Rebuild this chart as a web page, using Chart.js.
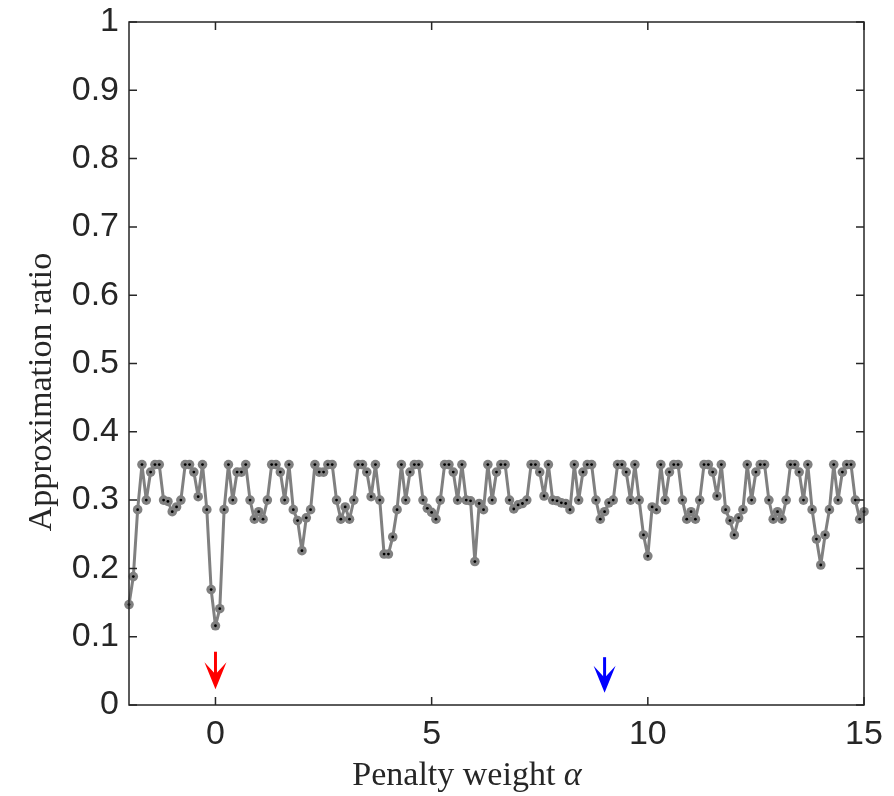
<!DOCTYPE html>
<html><head><meta charset="utf-8">
<script src="https://cdn.jsdelivr.net/npm/chart.js@4.4.1/dist/chart.umd.min.js"></script>
<style>html,body{margin:0;padding:0;background:#fff;}canvas{display:block;}</style>
</head><body>
<canvas id="c" width="894" height="796"></canvas>
<script>
// Penalty weight alpha (x categories)
const alpha = [
-2,-1.9,-1.8,-1.7,-1.6,-1.5,-1.4,-1.3,-1.2,-1.1,
-1,-0.9,-0.8,-0.7,-0.6,-0.5,-0.4,-0.3,-0.2,-0.1,
0,0.1,0.2,0.3,0.4,0.5,0.6,0.7,0.8,0.9,
1,1.1,1.2,1.3,1.4,1.5,1.6,1.7,1.8,1.9,
2,2.1,2.2,2.3,2.4,2.5,2.6,2.7,2.8,2.9,
3,3.1,3.2,3.3,3.4,3.5,3.6,3.7,3.8,3.9,
4,4.1,4.2,4.3,4.4,4.5,4.6,4.7,4.8,4.9,
5,5.1,5.2,5.3,5.4,5.5,5.6,5.7,5.8,5.9,
6,6.1,6.2,6.3,6.4,6.5,6.6,6.7,6.8,6.9,
7,7.1,7.2,7.3,7.4,7.5,7.6,7.7,7.8,7.9,
8,8.1,8.2,8.3,8.4,8.5,8.6,8.7,8.8,8.9,
9,9.1,9.2,9.3,9.4,9.5,9.6,9.7,9.8,9.9,
10,10.1,10.2,10.3,10.4,10.5,10.6,10.7,10.8,10.9,
11,11.1,11.2,11.3,11.4,11.5,11.6,11.7,11.8,11.9,
12,12.1,12.2,12.3,12.4,12.5,12.6,12.7,12.8,12.9,
13,13.1,13.2,13.3,13.4,13.5,13.6,13.7,13.8,13.9,
14,14.1,14.2,14.3,14.4,14.5,14.6,14.7,14.8,14.9,
15];
// Approximation ratio (series values)
const ratio = [
0.147,0.188,0.286,0.352,0.300,0.341,0.352,0.352,0.300,0.298,
0.283,0.290,0.300,0.352,0.352,0.341,0.305,0.352,0.286,0.169,
0.116,0.141,0.286,0.352,0.300,0.341,0.341,0.352,0.300,0.272,
0.283,0.272,0.300,0.352,0.352,0.341,0.300,0.352,0.286,0.270,
0.226,0.274,0.286,0.352,0.341,0.341,0.352,0.352,0.300,0.272,
0.290,0.272,0.300,0.352,0.352,0.341,0.305,0.352,0.300,0.221,
0.221,0.246,0.286,0.352,0.300,0.341,0.352,0.352,0.300,0.288,
0.282,0.272,0.300,0.352,0.352,0.341,0.300,0.352,0.300,0.299,
0.210,0.295,0.286,0.352,0.300,0.341,0.352,0.352,0.300,0.287,
0.293,0.295,0.300,0.352,0.352,0.341,0.306,0.352,0.300,0.299,
0.296,0.295,0.286,0.352,0.300,0.341,0.352,0.352,0.300,0.272,
0.283,0.296,0.300,0.352,0.352,0.341,0.300,0.352,0.300,0.249,
0.218,0.290,0.286,0.352,0.300,0.341,0.352,0.352,0.300,0.272,
0.283,0.272,0.300,0.352,0.352,0.341,0.306,0.352,0.286,0.270,
0.249,0.274,0.286,0.352,0.300,0.341,0.352,0.352,0.300,0.272,
0.283,0.272,0.300,0.352,0.352,0.341,0.300,0.352,0.286,0.243,
0.205,0.249,0.286,0.352,0.300,0.341,0.352,0.352,0.300,0.272,
0.283];
// Tick values and labels
const xTicks = [0, 5, 10, 15];
const xTickLabels = ['0', '5', '10', '15'];
const yTicks = [0, 0.1, 0.2, 0.3, 0.4, 0.5, 0.6, 0.7, 0.8, 0.9, 1];
const yTickLabels = ['0', '0.1', '0.2', '0.3', '0.4', '0.5', '0.6', '0.7', '0.8', '0.9', '1'];
// Arrow markers (alpha position, start and tip in ratio units)
const arrowAlpha = [0, 9];
const arrowTop = [0.078, 0.070];
const arrowTip = [0.023, 0.018];
const arrowColor = ['#ff0000', '#0000ff'];
const xTitle = 'Penalty weight ';
const xTitleSym = 'α';
const yTitle = 'Approximation ratio';

const points = alpha.map((a, i) => ({x: a, y: ratio[i]}));
const AX = '#262626';

const decor = {
  id: 'decor',
  afterDraw(chart) {
    const {ctx, chartArea: a, scales: {x, y}} = chart;
    ctx.save();
    ctx.strokeStyle = AX; ctx.lineWidth = 1.5;
    ctx.strokeRect(a.left, a.top, a.right - a.left, a.bottom - a.top);
    const tl = 8;
    ctx.beginPath();
    yTicks.forEach(v => {
      const py = y.getPixelForValue(v);
      ctx.moveTo(a.left, py); ctx.lineTo(a.left + tl, py);
      ctx.moveTo(a.right, py); ctx.lineTo(a.right - tl, py);
    });
    xTicks.forEach(v => {
      const px = x.getPixelForValue(v);
      ctx.moveTo(px, a.bottom); ctx.lineTo(px, a.bottom - tl);
      ctx.moveTo(px, a.top); ctx.lineTo(px, a.top + tl);
    });
    ctx.stroke();
    arrowAlpha.forEach((v, i) => {
      const px = x.getPixelForValue(v);
      const y0 = y.getPixelForValue(arrowTop[i]);
      const y1 = y.getPixelForValue(arrowTip[i]);
      ctx.strokeStyle = arrowColor[i]; ctx.fillStyle = arrowColor[i];
      ctx.lineWidth = 3;
      ctx.beginPath(); ctx.moveTo(px, y0); ctx.lineTo(px, y1 - 12); ctx.stroke();
      ctx.beginPath();
      ctx.moveTo(px, y1);
      ctx.lineTo(px - 11, y1 - 27);
      ctx.lineTo(px, y1 - 15);
      ctx.lineTo(px + 11, y1 - 27);
      ctx.closePath(); ctx.fill();
    });
    ctx.fillStyle = AX;
    ctx.font = '34px "Liberation Serif"';
    ctx.textBaseline = 'alphabetic';
    ctx.save();
    ctx.translate(51, 392);
    ctx.rotate(-Math.PI / 2);
    ctx.textAlign = 'center';
    ctx.fillText(yTitle, 0, 0);
    ctx.restore();
    ctx.textAlign = 'left';
    const w = ctx.measureText(xTitle).width;
    ctx.font = 'italic 34px "Liberation Serif"';
    const w2 = ctx.measureText(xTitleSym).width;
    const sx = 467 - (w + w2) / 2;
    ctx.font = '34px "Liberation Serif"';
    ctx.fillText(xTitle, sx, 785);
    ctx.font = 'italic 34px "Liberation Serif"';
    ctx.fillText(xTitleSym, sx + w, 785);
    ctx.restore();
  }
};

new Chart(document.getElementById('c'), {
  type: 'line',
  data: {
    datasets: [
      {data: points, order: 1, borderColor: '#808080', borderWidth: 3, borderJoinStyle: 'round',
       pointRadius: 4.8, pointBackgroundColor: '#808080', pointBorderColor: '#808080', pointBorderWidth: 0,
       tension: 0, clip: false},
      {data: points, order: 0, showLine: false, pointRadius: 1.4, pointBackgroundColor: '#000',
       pointBorderWidth: 0, clip: false}
    ]
  },
  options: {
    responsive: false, animation: false, events: [],
    plugins: {legend: {display: false}, tooltip: {enabled: false}},
    layout: {padding: {top: 22, right: 30, left: 0, bottom: 0}},
    scales: {
      x: {
        type: 'linear', min: -2, max: 15,
        afterBuildTicks: s => { s.ticks = xTicks.map(v => ({value: v})); },
        afterFit: s => { s.height = 91; s.paddingLeft = 0; s.paddingRight = 0; },
        ticks: {autoSkip: false, maxRotation: 0, padding: 9, color: AX,
                font: {family: 'Liberation Sans', size: 34},
                callback: (v, i) => xTickLabels[i]},
        grid: {display: false, drawTicks: false},
        border: {display: false}
      },
      y: {
        type: 'linear', min: 0, max: 1,
        afterBuildTicks: s => { s.ticks = yTicks.map(v => ({value: v})); },
        afterFit: s => { s.width = 129; s.paddingTop = 0; s.paddingBottom = 0; },
        ticks: {autoSkip: false, padding: 10, color: AX,
                font: {family: 'Liberation Sans', size: 34},
                callback: (v, i) => yTickLabels[i]},
        grid: {display: false, drawTicks: false},
        border: {display: false}
      }
    }
  },
  plugins: [decor]
});
</script>
</body></html>
